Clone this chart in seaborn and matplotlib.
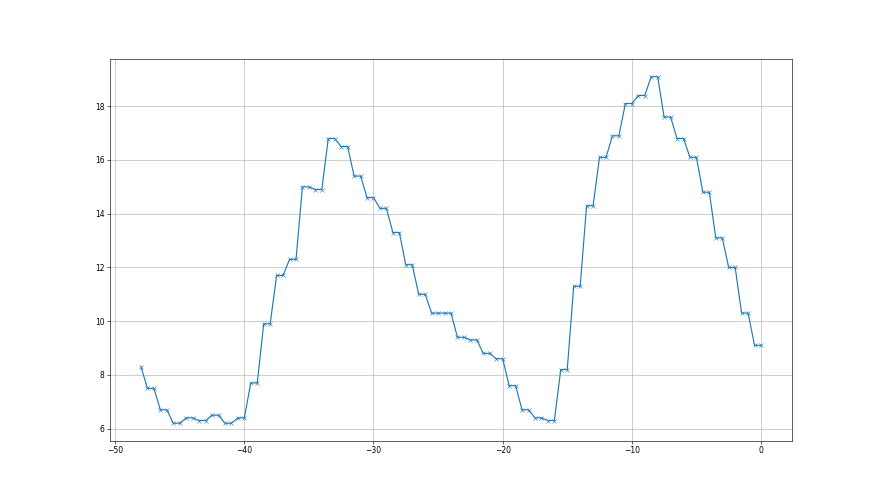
import numpy as np
import pandas as pd
import matplotlib
matplotlib.use("Agg")
import matplotlib.pyplot as plt
import seaborn as sns

# x positions (step 0.5) and values
x_values = [-48.0,
            -47.5, -47.0, -46.5, -46.0, -45.5, -45.0, -44.5, -44.0, -43.5, -43.0,
            -42.5, -42.0, -41.5, -41.0, -40.5, -40.0, -39.5, -39.0, -38.5, -38.0,
            -37.5, -37.0, -36.5, -36.0, -35.5, -35.0, -34.5, -34.0, -33.5, -33.0,
            -32.5, -32.0, -31.5, -31.0, -30.5, -30.0, -29.5, -29.0, -28.5, -28.0,
            -27.5, -27.0, -26.5, -26.0, -25.5, -25.0, -24.5, -24.0, -23.5, -23.0,
            -22.5, -22.0, -21.5, -21.0, -20.5, -20.0, -19.5, -19.0, -18.5, -18.0,
            -17.5, -17.0, -16.5, -16.0, -15.5, -15.0, -14.5, -14.0, -13.5, -13.0,
            -12.5, -12.0, -11.5, -11.0, -10.5, -10.0, -9.5, -9.0, -8.5, -8.0,
            -7.5, -7.0, -6.5, -6.0, -5.5, -5.0, -4.5, -4.0, -3.5, -3.0,
            -2.5, -2.0, -1.5, -1.0, -0.5, 0.0]
y_values = [8.3,
            7.5, 7.5, 6.7, 6.7, 6.2, 6.2, 6.4, 6.4, 6.3, 6.3,
            6.5, 6.5, 6.2, 6.2, 6.4, 6.4, 7.7, 7.7, 9.9, 9.9,
            11.7, 11.7, 12.3, 12.3, 15.0, 15.0, 14.9, 14.9, 16.8, 16.8,
            16.5, 16.5, 15.4, 15.4, 14.6, 14.6, 14.2, 14.2, 13.3, 13.3,
            12.1, 12.1, 11.0, 11.0, 10.3, 10.3, 10.3, 10.3, 9.4, 9.4,
            9.3, 9.3, 8.8, 8.8, 8.6, 8.6, 7.6, 7.6, 6.7, 6.7,
            6.4, 6.4, 6.3, 6.3, 8.2, 8.2, 11.3, 11.3, 14.3, 14.3,
            16.1, 16.1, 16.9, 16.9, 18.1, 18.1, 18.4, 18.4, 19.1, 19.1,
            17.6, 17.6, 16.8, 16.8, 16.1, 16.1, 14.8, 14.8, 13.1, 13.1,
            12.0, 12.0, 10.3, 10.3, 9.1, 9.1]

df = pd.DataFrame({"x": x_values, "y": y_values})

fig, ax = plt.subplots(figsize=(16, 9), dpi=55)
sns.lineplot(data=df, x="x", y="y", marker="x", color="#1f77b4",
             linewidth=1.5, markersize=6, markeredgecolor="#1f77b4", ax=ax)
ax.grid(True, color="#b0b0b0", linewidth=0.8)
ax.set_xlabel("")
ax.set_ylabel("")
ax.set_xticks([-50, -40, -30, -20, -10, 0])
ax.set_yticks([6, 8, 10, 12, 14, 16, 18])
fig.savefig("out.png", dpi=55)
